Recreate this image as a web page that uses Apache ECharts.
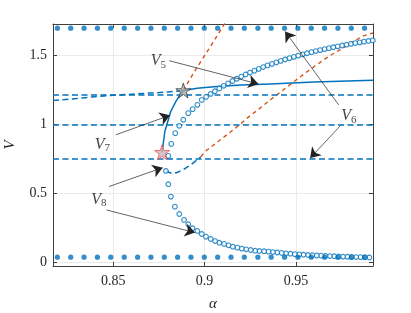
<!DOCTYPE html>
<html><head><meta charset="utf-8">
<script src="https://cdn.jsdelivr.net/npm/echarts@6/dist/echarts.min.js"></script>
<style>html,body{margin:0;padding:0;background:#fff}#c{width:411px;height:313px}</style>
</head><body><div id="c"></div>
<script>
// ---- data ----
const xRange = [0.8171, 0.9922];
const yRange = [-0.024, 1.730];
const xTicks = [0.85, 0.9, 0.95];
const yTicks = [0, 0.5, 1, 1.5];
const hLevels = [1.22, 1.0, 0.75];

const dotAlpha = [0.8195,0.8268,0.8341,0.8414,0.8487,0.8561,0.8634,0.8707,0.8780,0.8853,0.8926,0.8999,
  0.9072,0.9145,0.9218,0.9292,0.9365,0.9438,0.9511,0.9584,0.9657,0.9730,0.9803,0.9876];
const dotTopV = 1.70;
const dotBottomV = 0.04;

// open-circle branch (lower part, from right to fold)
const circLower = [
  [0.9902,0.038],[0.9878,0.039],[0.9854,0.040],[0.9830,0.041],[0.9806,0.042],[0.9782,0.043],[0.9758,0.044],
  [0.9734,0.045],[0.9710,0.047],[0.9686,0.048],[0.9662,0.049],[0.9638,0.051],[0.9614,0.052],[0.9590,0.054],
  [0.9566,0.056],[0.9542,0.058],[0.9518,0.060],[0.9494,0.062],[0.9470,0.065],[0.9446,0.068],[0.9422,0.071],
  [0.9398,0.074],[0.9374,0.077],[0.9350,0.080],[0.9326,0.083],[0.9300,0.085],[0.9277,0.087],[0.9253,0.092],
  [0.9228,0.097],[0.9204,0.102],[0.9180,0.109],[0.9155,0.116],[0.9131,0.126],[0.9107,0.136],[0.9081,0.145],
  [0.9058,0.157],[0.9034,0.172],[0.9008,0.189],[0.8985,0.208],[0.8961,0.230],[0.8935,0.250],[0.8911,0.279],
  [0.8888,0.310],[0.8862,0.353],[0.8838,0.406],[0.8816,0.479],[0.8802,0.569],[0.8789,0.665]
];
// open-circle branch (upper part, from fold to right)
const circUpper = [
  [0.8802,0.774],[0.8818,0.861],[0.8840,0.939],[0.8862,0.992],[0.8884,1.036],[0.8911,1.084],[0.8935,1.113],
  [0.8961,1.144],[0.8985,1.180],[0.9009,1.202],[0.9033,1.223],[0.9057,1.243],[0.9081,1.263],[0.9105,1.282],
  [0.9129,1.300],[0.9153,1.317],[0.9177,1.333],[0.9201,1.349],[0.9225,1.364],[0.9249,1.378],[0.9273,1.392],
  [0.9297,1.405],[0.9321,1.418],[0.9345,1.430],[0.9369,1.441],[0.9393,1.452],[0.9417,1.463],[0.9441,1.473],
  [0.9465,1.483],[0.9489,1.492],[0.9513,1.501],[0.9537,1.510],[0.9561,1.518],[0.9585,1.526],[0.9609,1.534],
  [0.9633,1.541],[0.9657,1.548],[0.9681,1.555],[0.9705,1.562],[0.9729,1.568],[0.9753,1.574],[0.9777,1.580],
  [0.9801,1.586],[0.9825,1.592],[0.9849,1.597],[0.9873,1.602],[0.9897,1.607],[0.9921,1.611]
];
// V5 branch
const blueDashUpper = [[0.8171,1.175],[0.8300,1.190],[0.8400,1.203],[0.8500,1.213],[0.8600,1.221],[0.8700,1.229],[0.8800,1.237],[0.8884,1.248]];
const orangeUpper = [[0.8884,1.248],[0.8940,1.375],[0.9000,1.500],[0.9060,1.625],[0.9112,1.737]];
const solidV5 = [[0.8884,1.248],[0.8960,1.265],[0.9067,1.277],[0.9200,1.287],[0.9359,1.296],[0.9600,1.309],[0.9922,1.322]];
// V7 branch
const solidV7 = [[0.8768,0.800],[0.8783,0.951],[0.8815,1.096],[0.8848,1.180],[0.8880,1.240],[0.8884,1.248]];
// lower unstable branch
const blueDashLower = [[0.8789,0.665],[0.8815,0.650],[0.8847,0.652],[0.8880,0.672],[0.8920,0.705],[0.8957,0.742],[0.8980,0.768]];
const orangeLower = [[0.8980,0.768],[0.9003,0.806],[0.9058,0.861],[0.9122,0.927],[0.9185,0.992],[0.9240,1.055],
  [0.9304,1.120],[0.9368,1.188],[0.9432,1.253],[0.9496,1.319],[0.9551,1.374],[0.9615,1.435],[0.9679,1.495],
  [0.9743,1.544],[0.9807,1.597],[0.9862,1.640],[0.9922,1.665]];
// special points
const starGray = [[0.8884,1.248]];
const starRed = [[0.8768,0.800]];
// annotations: label positions and arrows (start -> end)
const labels = [[0.8748,1.460,'5'],[0.9790,1.065,'6'],[0.8441,0.858,'7'],[0.8422,0.459,'8']];
const arrows = [
  [[0.8807,1.464],[0.9295,1.295]],
  [[0.9734,1.144],[0.9441,1.676]],
  [[0.9743,0.992],[0.9578,0.758]],
  [[0.8515,0.927],[0.8811,1.068]],
  [[0.8478,0.552],[0.8771,0.689]],
  [[0.8464,0.382],[0.8948,0.218]]
];

// ---- chart ----
const BLUE = '#0072BD', ORANGE = '#D95319', AX = '#404040';
const FONT = '"Liberation Serif", "DejaVu Serif", serif';
const STAR = 'path://M50,0 L61.8,35.3 L99,35.3 L69,57.3 L80.4,92.7 L50,70.7 L19.6,92.7 L31,57.3 L1,35.3 L38.2,35.3 Z';
const near = (v, arr) => arr.some(t => Math.abs(v - t) < 1e-6);

const lineS = (data, color, type, width, z) => ({
  type: 'line', data, showSymbol: false, symbol: 'none', smooth: false, z: z || 2,
  lineStyle: { color, width, type }, silent: true, animation: false
});

const option = {
  animation: false,
  grid: { left: 53, right: 38, top: 24, bottom: 47, containLabel: false, outerBoundsMode: 'none' },
  xAxis: [{
    type: 'value', min: xRange[0], max: xRange[1], splitNumber: 3, position: 'bottom',
    name: 'α', nameLocation: 'middle', nameGap: 31,
    nameTextStyle: { fontFamily: FONT, fontStyle: 'italic', fontSize: 15, color: '#262626' },
    axisLine: { show: true, onZero: false, lineStyle: { color: AX, width: 1 } },
    axisTick: { show: true, inside: true, length: 4, lineStyle: { color: AX } },
    axisLabel: { margin: 8, fontFamily: FONT, fontSize: 14, color: '#262626',
      formatter: v => near(v, xTicks) ? String(+v.toFixed(2)) : '' , showMinLabel: false, showMaxLabel: false},
    splitLine: { show: true, lineStyle: { color: '#ebebeb', width: 1 } }
  }, {
    type: 'value', min: xRange[0], max: xRange[1], splitNumber: 3, position: 'top',
    axisLine: { show: true, onZero: false, lineStyle: { color: AX, width: 1 } },
    axisTick: { show: true, inside: true, length: 4, lineStyle: { color: AX } },
    axisLabel: { show: false }, splitLine: { show: false }
  }],
  yAxis: [{
    type: 'value', min: yRange[0], max: yRange[1], splitNumber: 4, position: 'left',
    name: 'V', nameLocation: 'middle', nameGap: 35, nameRotate: 90,
    nameTextStyle: { fontFamily: FONT, fontStyle: 'italic', fontSize: 15, color: '#262626' },
    axisLine: { show: true, onZero: false, lineStyle: { color: AX, width: 1 } },
    axisTick: { show: true, inside: true, length: 4, lineStyle: { color: AX } },
    axisLabel: { margin: 6, fontFamily: FONT, fontSize: 14, color: '#262626',
      formatter: v => near(v, yTicks) ? String(+v.toFixed(1)) : '', showMinLabel: false, showMaxLabel: false },
    splitLine: { show: true, lineStyle: { color: '#ebebeb', width: 1 } }
  }, {
    type: 'value', min: yRange[0], max: yRange[1], splitNumber: 4, position: 'right',
    axisLine: { show: true, onZero: false, lineStyle: { color: AX, width: 1 } },
    axisTick: { show: true, inside: true, length: 4, lineStyle: { color: AX } },
    axisLabel: { show: false }, splitLine: { show: false }
  }],
  series: [
    {
      type: 'line', data: [], silent: true,
      markLine: {
        silent: true, symbol: 'none', label: { show: false },
        lineStyle: { color: BLUE, width: 1.5, type: [6, 3.5] },
        data: hLevels.map(v => ({ yAxis: v }))
      }
    },
    lineS(blueDashUpper, BLUE, [6, 3.5], 1.5, 3),
    lineS(blueDashLower, BLUE, [6, 3.5], 1.5, 3),
    lineS(orangeUpper, ORANGE, [4, 3.5], 1.4, 3),
    lineS(orangeLower, ORANGE, [4, 3.5], 1.4, 3),
    lineS(solidV5, BLUE, 'solid', 1.5, 4),
    lineS(solidV7, BLUE, 'solid', 1.5, 4),
    {
      type: 'scatter', data: circLower.concat(circUpper), symbol: 'circle', symbolSize: 4.7, z: 5,
      itemStyle: { color: '#ffffff', borderColor: BLUE, borderWidth: 1.1 }, silent: true
    },
    {
      type: 'scatter', data: dotAlpha.map(a => [a, dotTopV]).concat(dotAlpha.map(a => [a, dotBottomV])),
      symbol: 'circle', symbolSize: 5.2, z: 5, itemStyle: { color: BLUE }, silent: true
    },
    {
      type: 'scatter', data: starGray, symbol: STAR, symbolSize: 15, z: 8,
      itemStyle: { color: '#a8a8a8', borderColor: '#222', borderWidth: 0.8 }, silent: true
    },
    {
      type: 'scatter', data: starRed, symbol: STAR, symbolSize: 15, z: 8,
      itemStyle: { color: '#cdb5bb', borderColor: '#ff2a2a', borderWidth: 0.8 }, silent: true
    },
    {
      type: 'lines', coordinateSystem: 'cartesian2d', z: 9, silent: true,
      symbol: ['none', 'arrow'], symbolSize: [0, 10],
      lineStyle: { color: '#222', width: 0.7, opacity: 1 },
      data: arrows.map(a => ({ coords: a }))
    },
    {
      type: 'scatter', z: 10, symbolSize: 1, silent: true,
      itemStyle: { color: 'rgba(0,0,0,0)' },
      data: labels.map(l => ({ value: [l[0], l[1]], sub: l[2] })),
      label: {
        show: true, position: 'inside',
        formatter: p => '{v|V}{s|' + p.data.sub + '}',
        rich: {
          v: { fontFamily: FONT, fontStyle: 'italic', fontSize: 16, color: '#111' },
          s: { fontFamily: FONT, fontSize: 11, color: '#111', verticalAlign: 'bottom', padding: [8, 0, 0, 0] }
        }
      }
    }
  ]
};
const chart = echarts.init(document.getElementById('c'), null, { renderer: 'canvas' });
chart.setOption(option);
</script></body></html>
